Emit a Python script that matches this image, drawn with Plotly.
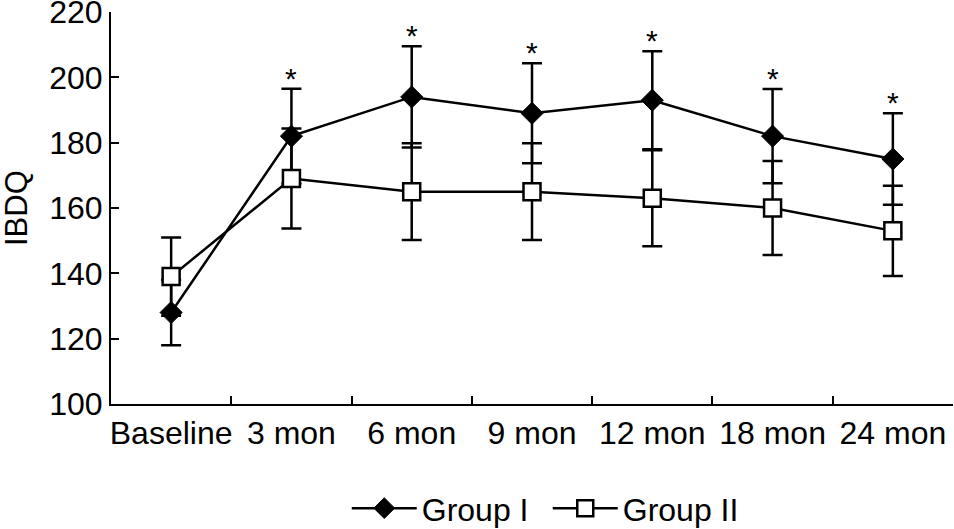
import plotly.graph_objects as go

categories = ["Baseline", "3 mon", "6 mon", "9 mon", "12 mon", "18 mon", "24 mon"]
group1_mean = [128, 182, 194, 189, 193, 182, 175]
group1_sd = [10, 14.5, 15.5, 15.3, 15, 14.4, 14]
group2_mean = [139, 169, 165, 165, 163, 160, 153]
group2_sd = [12, 15.3, 14.8, 14.8, 14.7, 14.4, 13.8]
significant = [False, True, True, True, True, True, True]
y_ticks = [100, 120, 140, 160, 180, 200, 220]

FONT = "Liberation Sans, Arial, sans-serif"

fig = go.Figure()
fig.add_trace(go.Scatter(
    x=categories, y=group1_mean, name="Group I", mode="lines+markers",
    line=dict(color="black", width=2.5),
    marker=dict(symbol="diamond", size=17, color="black", line=dict(color="black", width=1)),
    error_y=dict(type="data", array=group1_sd, visible=True, color="black", thickness=2.5, width=10),
))
fig.add_trace(go.Scatter(
    x=categories, y=group2_mean, name="Group II", mode="lines+markers",
    line=dict(color="black", width=2.5),
    marker=dict(symbol="square", size=17, color="white", line=dict(color="black", width=2.5)),
    error_y=dict(type="data", array=group2_sd, visible=True, color="black", thickness=2.5, width=10),
))

for c, m, s, sig in zip(categories, group1_mean, group1_sd, significant):
    if sig:
        fig.add_annotation(x=c, y=m + s, text="*", showarrow=False, xanchor="center",
                           yanchor="bottom", yshift=-8,
                           font=dict(family=FONT, size=30, color="black"))

fig.add_annotation(xref="paper", yref="paper", x=-0.1128, y=0.5, text="IBDQ",
                   textangle=-90, showarrow=False, xanchor="center", yanchor="middle",
                   font=dict(family=FONT, size=31, color="black"))

fig.update_layout(
    width=954, height=529,
    margin=dict(l=111, r=1, t=12, b=125, autoexpand=False),
    paper_bgcolor="white", plot_bgcolor="white",
    font=dict(family=FONT, size=31, color="black"),
    showlegend=True,
    legend=dict(orientation="h", x=0.28, xanchor="left", y=-0.196, yanchor="top",
                font=dict(family=FONT, size=32, color="black"), bgcolor="rgba(0,0,0,0)",
                itemwidth=65, entrywidth=121),
)
fig.update_xaxes(
    type="category", range=[-0.5, 6.5], tickson="boundaries", ticks="inside", ticklen=8,
    tickwidth=2, tickcolor="black", showline=True, linecolor="black", linewidth=2,
    showgrid=False, zeroline=False, tickangle=0, automargin=False,
    tickfont=dict(family=FONT, size=32, color="black"),
)
fig.update_yaxes(
    range=[100, 220], tickvals=y_ticks, ticks="inside", ticklen=8, tickwidth=2, tickcolor="black",
    showline=True, linecolor="black", linewidth=2, showgrid=False, zeroline=False,
    automargin=False, ticklabeloverflow="allow",
    tickfont=dict(family=FONT, size=32, color="black"),
)

fig.write_html("out.html", config={"displayModeBar": False},
               post_script="document.body.style.margin='0px';")
